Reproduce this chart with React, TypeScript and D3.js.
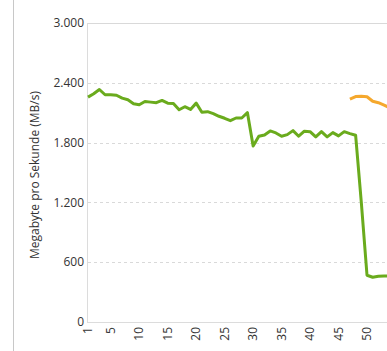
import React from "react";
import * as d3 from "d3";

const xValues: number[] = Array.from({ length: 55 }, (_, i) => i + 1);
const greenValues: number[] = [
  2256, 2290, 2333, 2280, 2280, 2275, 2246, 2230, 2190, 2180,
  2213, 2206, 2200, 2223, 2196, 2193, 2130, 2160, 2133, 2196,
  2104, 2110, 2090, 2064, 2044, 2020, 2047, 2047, 2100, 1765,
  1864, 1877, 1917, 1897, 1864, 1880, 1920, 1864, 1914, 1910,
  1857, 1910, 1857, 1900, 1867, 1910, 1890, 1874, 1200, 469,
  449, 459, 462, 462, 462,
];
const orangeValues: (number | null)[] = [
  null, null, null, null, null, null, null, null, null, null,
  null, null, null, null, null, null, null, null, null, null,
  null, null, null, null, null, null, null, null, null, null,
  null, null, null, null, null, null, null, null, null, null,
  null, null, null, null, null, null, 2236, 2262, 2266, 2260,
  2215, 2200, 2175, 2150, 2130,
];
const yTicks: number[] = [0, 600, 1200, 1800, 2400, 3000];
const xTicks: number[] = [1, 5, 10, 15, 20, 25, 30, 35, 40, 45, 50];
const yTitle = "Megabyte pro Sekunde (MB/s)";

const W = 387;
const H = 351;
const FONT = "'Open Sans', 'Noto Sans', sans-serif";

export default function App() {
  const x = d3.scaleLinear().domain([1, 60]).range([88, 88 + 59 * 5.694]);
  const y = d3.scaleLinear().domain([0, 3000]).range([322, 23]);
  const fmt = (v: number) => d3.format(",")(v).replace(/,/g, ".");

  const line = d3
    .line<number | null>()
    .defined((d) => d !== null)
    .x((_, i) => x(xValues[i]))
    .y((d) => y(d as number));

  return (
    <svg
      width={W}
      height={H}
      style={{ position: "fixed", left: 0, top: 0, background: "#fff" }}
      fontFamily={FONT}
    >
      <line x1={13.5} x2={13.5} y1={0} y2={H} stroke="#c8c8c8" strokeWidth={1} />
      {yTicks.map((t) => (
        <g key={t}>
          {t > 0 && (
            <line
              x1={88}
              x2={W}
              y1={Math.round(y(t)) + 0.5}
              y2={Math.round(y(t)) + 0.5}
              stroke="#d9d9d9"
              strokeWidth={1}
              strokeDasharray={t === 3000 ? undefined : "3,3"}
            />
          )}
          <text
            x={84}
            y={y(t)}
            dy="0.35em"
            textAnchor="end"
            fontSize={12}
            fill="#333"
          >
            {fmt(t)}
          </text>
        </g>
      ))}
      <line x1={87.5} x2={87.5} y1={23} y2={322} stroke="#dcdcdc" strokeWidth={1} />
      <line x1={87} x2={W} y1={322.5} y2={322.5} stroke="#dcdcdc" strokeWidth={1} />
      {xTicks.map((t) => (
        <text
          key={t}
          transform={`translate(${x(t)},327) rotate(-90)`}
          dy="0.35em"
          textAnchor="end"
          fontSize={12}
          fill="#333"
        >
          {t}
        </text>
      ))}
      <text
        transform={`translate(35,175) rotate(-90)`}
        dy="0.35em"
        textAnchor="middle"
        fontSize={12}
        fill="#333"
      >
        {yTitle}
      </text>
      <path
        d={line(greenValues) || ""}
        fill="none"
        stroke="#6aab1d"
        strokeWidth={3}
        strokeLinejoin="round"
      />
      <path
        d={line(orangeValues) || ""}
        fill="none"
        stroke="#f5a82d"
        strokeWidth={3}
        strokeLinejoin="round"
      />
    </svg>
  );
}
